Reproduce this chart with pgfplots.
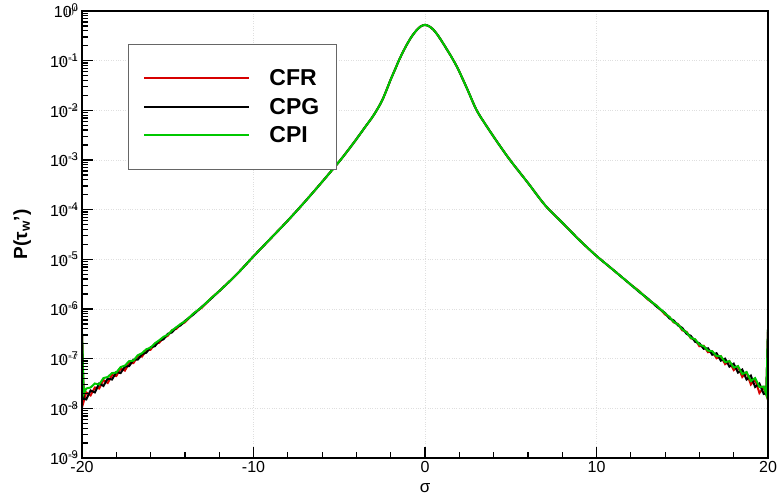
\documentclass[border=0pt]{standalone}
\usepackage{pgfplots}
\usepackage{pgfplotstable}
\usepackage{fontspec}
\setmainfont{Liberation Sans}
\pgfplotsset{compat=1.18}

\definecolor{cfr}{RGB}{215,0,0}
\definecolor{cpi}{RGB}{0,200,0}

% core of the pdf, common to the three runs
\pgfplotstableread{
s p
-12 2.29e-6
-11 4.90e-6
-10 1.15e-5
-9 2.63e-5
-8 6.03e-5
-7 1.45e-4
-6 3.63e-4
-5 9.33e-4
-4.5 1.55e-3
-4 2.63e-3
-3.5 4.57e-3
-3 7.94e-3
-2.5 1.58e-2
-2 4.17e-2
-1.75 6.61e-2
-1.5 1.05e-1
-1.25 1.58e-1
-1 2.29e-1
-0.75 3.16e-1
-0.5 4.07e-1
-0.25 4.90e-1
0 5.25e-1
0.25 4.90e-1
0.5 4.17e-1
0.75 3.24e-1
1 2.40e-1
1.25 1.74e-1
1.5 1.26e-1
1.75 8.91e-2
2 6.03e-2
2.5 2.51e-2
3 1.02e-2
3.5 5.37e-3
4 2.95e-3
4.5 1.66e-3
5 9.55e-4
6 3.47e-4
7 1.23e-4
8 5.50e-5
9 2.45e-5
10 1.17e-5
11 6.03e-6
12 3.09e-6
}\core

\pgfplotstableread{
s p
-20 3.0e-7
-19.9 1.38e-8
-19.75 2.09e-8
-19.5 1.82e-8
-19.25 2.63e-8
-19 2.51e-8
-18.75 3.72e-8
-18.5 3.24e-8
-18.25 4.68e-8
-18 4.47e-8
-17.75 6.31e-8
-17.5 5.75e-8
-17.25 8.13e-8
-17 8.13e-8
-16.75 1.12e-7
-16.5 1.10e-7
-16.25 1.48e-7
-16 1.51e-7
-15.75 2.00e-7
-15.5 2.09e-7
-15.25 2.63e-7
-15 2.88e-7
-14.75 3.72e-7
-14.5 3.98e-7
-14.25 4.90e-7
-14 5.37e-7
-13.5 8.13e-7
-13 1.07e-6
-12.5 1.62e-6
-12 2.29e-6
}\cfrL
\pgfplotstableread{
s p
12 3.09e-6
12.5 2.29e-6
13 1.55e-6
13.5 1.17e-6
14 7.76e-7
14.25 6.92e-7
14.5 5.37e-7
14.75 5.01e-7
15 3.72e-7
15.25 3.47e-7
15.5 2.57e-7
15.75 2.45e-7
16 1.78e-7
16.25 1.82e-7
16.5 1.35e-7
16.75 1.41e-7
17 1.02e-7
17.25 1.12e-7
17.5 7.76e-8
17.75 8.91e-8
18 5.89e-8
18.25 6.92e-8
18.5 4.27e-8
18.75 5.25e-8
19 3.02e-8
19.25 3.80e-8
19.5 2.04e-8
19.75 2.63e-8
19.9 1.86e-8
20 3.5e-7
}\cfrR

\pgfplotstableread{
s p
-20 3.0e-7
-19.9 1.55e-8
-19.75 1.51e-8
-19.5 2.29e-8
-19.25 2.09e-8
-19 3.16e-8
-18.75 2.82e-8
-18.5 3.98e-8
-18.25 3.80e-8
-18 5.37e-8
-17.75 5.13e-8
-17.5 6.92e-8
-17.25 7.08e-8
-17 9.55e-8
-16.75 9.55e-8
-16.5 1.23e-7
-16.25 1.32e-7
-16 1.70e-7
-15.75 1.78e-7
-15.5 2.29e-7
-15.25 2.45e-7
-15 3.16e-7
-14.75 3.39e-7
-14.5 4.27e-7
-14.25 4.68e-7
-14 5.75e-7
-13.5 7.76e-7
-13 1.12e-6
-12.5 1.58e-6
-12 2.29e-6
}\cpgL
\pgfplotstableread{
s p
12 3.09e-6
12.5 2.19e-6
13 1.62e-6
13.5 1.12e-6
14 8.32e-7
14.25 6.46e-7
14.5 5.89e-7
14.75 4.68e-7
15 4.17e-7
15.25 3.16e-7
15.5 2.88e-7
15.75 2.19e-7
16 2.04e-7
16.25 1.58e-7
16.5 1.62e-7
16.75 1.20e-7
17 1.29e-7
17.25 9.12e-8
17.5 1.00e-7
17.75 6.92e-8
18 7.94e-8
18.25 5.25e-8
18.5 6.03e-8
18.75 3.80e-8
19 4.57e-8
19.25 2.69e-8
19.5 3.16e-8
19.75 1.95e-8
19.9 2.00e-8
20 3.8e-7
}\cpgR

\pgfplotstableread{
s p
-20 3.3e-7
-19.9 1.95e-8
-19.75 2.51e-8
-19.5 2.63e-8
-19.25 3.16e-8
-19 3.02e-8
-18.75 4.07e-8
-18.5 4.27e-8
-18.25 5.13e-8
-18 5.25e-8
-17.75 6.76e-8
-17.5 7.24e-8
-17.25 8.91e-8
-17 9.12e-8
-16.75 1.17e-7
-16.5 1.29e-7
-16.25 1.55e-7
-16 1.66e-7
-15.75 2.04e-7
-15.5 2.34e-7
-15.25 2.75e-7
-15 3.02e-7
-14.75 3.72e-7
-14.5 4.27e-7
-14.25 5.01e-7
-14 5.62e-7
-13.5 8.13e-7
-13 1.10e-6
-12.5 1.62e-6
-12 2.29e-6
}\cpiL
\pgfplotstableread{
s p
12 3.09e-6
12.5 2.24e-6
13 1.58e-6
13.5 1.17e-6
14 8.13e-7
14.25 6.92e-7
14.5 5.50e-7
14.75 4.90e-7
15 3.89e-7
15.25 3.39e-7
15.5 2.63e-7
15.75 2.45e-7
16 1.91e-7
16.25 1.78e-7
16.5 1.45e-7
16.75 1.41e-7
17 1.12e-7
17.25 1.12e-7
17.5 8.51e-8
17.75 8.91e-8
18 6.61e-8
18.25 7.08e-8
18.5 4.90e-8
18.75 5.37e-8
19 3.55e-8
19.25 4.07e-8
19.5 2.69e-8
19.75 2.75e-8
19.9 1.91e-8
20 4.0e-7
}\cpiR

\begin{document}
\begin{tikzpicture}
\path[use as bounding box] (-82pt,-42pt) rectangle (696pt,458pt);
\begin{axis}[
    scale only axis,
    width=686pt, height=447pt,
    ymode=log,
    log basis y=10,
    xmin=-20, xmax=20,
    ymin=1e-9, ymax=1,
    xtick={-20,-10,0,10,20},
    minor x tick num=4,
    log number format basis/.code 2 args={#1\textsuperscript{\pgfmathprintnumber{#2}}},
    /pgf/number format/assume math mode=true,
    tick pos=left,
    tick align=inside,
    major tick length=11pt,
    minor tick length=6pt,
    xtick style={black, line width=1.2pt},
    ytick style={black, line width=1.2pt},
    axis line style={line width=1.6pt},
    xmajorgrids, ymajorgrids,
    major grid style={dotted, gray!25, line width=0.5pt},
    ticklabel style={font=\fontsize{16}{19}\selectfont},
    xlabel={σ},
    ylabel={\textbf{P(τ\textsubscript{w}')}},
    every axis x label/.style={at={(axis description cs:0.5,-0.067)}, anchor=center, font=\fontsize{17}{20}\selectfont},
    every axis y label/.style={at={(axis description cs:-0.087,0.5)}, rotate=90, anchor=center, font=\fontsize{19}{22}\selectfont},
    legend style={at={(axis description cs:0.067,0.926)}, anchor=north west,
        draw=black!60, line width=1pt, inner xsep=15pt, inner ysep=23pt,
        font=\fontsize{23}{26}\selectfont\bfseries, row sep=7pt,
        /tikz/every odd column/.append style={column sep=17pt}},
    legend cell align=left,
    legend image code/.code={\draw[#1, line width=2pt] (0pt,0pt) -- (105pt,0pt);},
    every axis plot/.append style={line width=2pt},
]
\addplot[cfr, forget plot] table[x=s,y=p] {\cfrL};
\addplot[cfr, smooth] table[x=s,y=p] {\core};
\addplot[cfr, forget plot] table[x=s,y=p] {\cfrR};
\addplot[black, forget plot] table[x=s,y=p] {\cpgL};
\addplot[black, smooth] table[x=s,y=p] {\core};
\addplot[black, forget plot] table[x=s,y=p] {\cpgR};
\addplot[cpi, forget plot] table[x=s,y=p] {\cpiL};
\addplot[cpi, smooth] table[x=s,y=p] {\core};
\addplot[cpi, forget plot] table[x=s,y=p] {\cpiR};
\legend{CFR,CPG,CPI}
\end{axis}
% same frame again, only to draw the y ticks (decades and 2..9)
\begin{axis}[
    scale only axis,
    width=686pt, height=447pt,
    ymode=log,
    xmin=-20, xmax=20,
    ymin=1e-9, ymax=1,
    tick pos=left,
    tick align=inside,
    major tick length=11pt,
    minor tick length=6pt,
    ytick style={black, line width=1.2pt},
    xtick=\empty,
    yticklabel={},
    axis line style={line width=1.6pt},
]
\end{axis}
\end{tikzpicture}
\end{document}
